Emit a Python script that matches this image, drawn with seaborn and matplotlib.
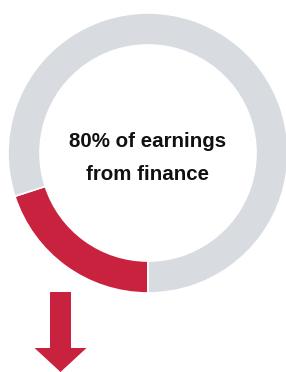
import matplotlib
matplotlib.use("Agg")
import matplotlib.pyplot as plt
import seaborn as sns

# Data
categories = ["Other", "Finance"]
shares = [20, 80]          # red segment (20%), grey remainder (80%)
colors = ["#c8223f", "#d8dce1"]
label_lines = ["80% of earnings", "from finance"]

sns.set_theme(style="white")
plt.rcParams['font.family'] = ['Liberation Sans', 'DejaVu Sans']

W, H = 286, 372
fig = plt.figure(figsize=(W / 100, H / 100), dpi=100)
ax = fig.add_axes([0, 0, 1, 1])

cx, cy, R = 148, H - 153, 140
ax.pie(shares, colors=colors, startangle=270, counterclock=False,
       center=(cx, cy), radius=R,
       wedgeprops=dict(width=32, edgecolor="white", linewidth=1.2))

ax.text(cx, H - 147, label_lines[0], ha="center", va="baseline",
        fontsize=14.8, fontweight="bold", color="#111111")
ax.text(cx, H - 180, label_lines[1], ha="center", va="baseline",
        fontsize=14.8, fontweight="bold", color="#111111")

ax.arrow(60.5, H - 292, 0, -(372 - 292), width=21, head_width=52,
         head_length=24, length_includes_head=True,
         color=colors[0], linewidth=0)

ax.set_xlim(0, W)
ax.set_ylim(0, H)
ax.set_aspect("equal")
ax.axis("off")
fig.savefig("out.png", dpi=100)
